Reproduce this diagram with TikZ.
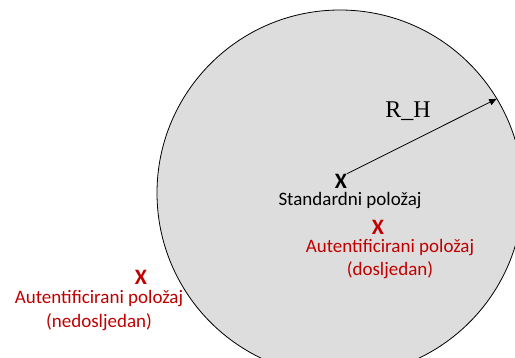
\documentclass[tikz,border=0pt]{standalone}
\usepackage{fontspec}
\setmainfont{Carlito}
\newfontfamily\timesfont{Liberation Serif}
\usetikzlibrary{arrows.meta, positioning}
\definecolor{zonefill}{RGB}{221,221,221}
\definecolor{authred}{RGB}{192,0,0}

\begin{document}
\begin{tikzpicture}[
  x=1pt, y=-1pt,
  zone/.style={circle, draw=black, line width=0.8pt, fill=zonefill,
               minimum size=366pt, inner sep=0pt},
  cross/.style={font=\fontsize{22}{22}\selectfont\bfseries, inner sep=0pt},
  place/.style={font=\fontsize{19}{23.5}\selectfont, align=center,
                inner sep=0pt},
  radius/.style={-{Latex[length=8pt,width=7pt]}, line width=0.8pt}
]
\useasboundingbox (0,0) rectangle (515,358);

% range circle
\node[zone] (zone) at (340,193) {};

% standard position
\node[cross] (stdx) at (341,181) {X};
\node[place, below=4pt of stdx, xshift=9pt] (stdlbl) {Standardni položaj};

% radius
\draw[radius] (stdx.north east) -- (zone.31.3);
\node[font=\fontsize{24}{24}\selectfont\timesfont] (rh) at (408,111) {R\_H};

% authenticated, consistent
\node[cross, authred] (conx) at (378,227.5) {X};
\node[place, authred, below=4pt of conx, xshift=12pt] (conlbl)
    {Autentificirani položaj\\(dosljedan)};

% authenticated, inconsistent
\node[cross, authred] (incx) at (141,277) {X};
\node[place, authred, below=6pt of incx, xshift=-42pt] (inclbl)
    {Autentificirani položaj\\(nedosljedan)};
\end{tikzpicture}
\end{document}
